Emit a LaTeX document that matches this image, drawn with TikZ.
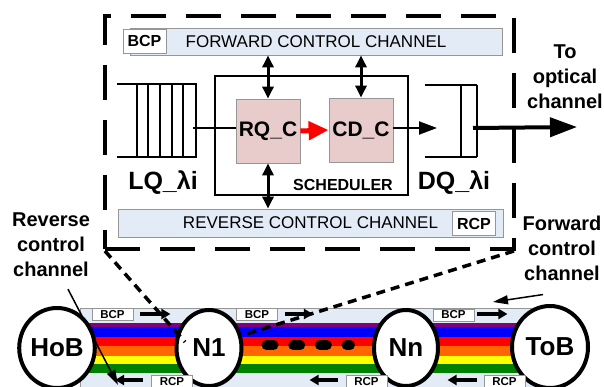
\documentclass[tikz,border=0pt]{standalone}
\usepackage{fontspec}
\setmainfont{Liberation Sans}
\usetikzlibrary{arrows.meta,shapes.geometric,positioning}

\definecolor{chanblue}{RGB}{227,235,246}
\definecolor{ctrlpink}{RGB}{232,203,203}
\definecolor{edgegray}{RGB}{150,150,150}
\definecolor{ringpurple}{RGB}{128,0,128}
\definecolor{ringblue}{RGB}{0,0,255}
\definecolor{ringred}{RGB}{255,0,0}
\definecolor{ringorange}{RGB}{255,102,0}
\definecolor{ringyellow}{RGB}{255,255,0}
\definecolor{ringgreen}{RGB}{0,128,0}

\tikzset{
  chanbar/.style={draw=edgegray, fill=chanblue, line width=0.8pt, inner sep=0pt,
    font=\fontsize{17}{19}\selectfont},
  tagbox/.style={draw=edgegray, fill=white, line width=0.8pt, inner sep=0pt,
    minimum width=43pt, minimum height=24pt, font=\bfseries\fontsize{16}{18}\selectfont},
  smalltag/.style={draw=edgegray, fill=white, line width=0.8pt, inner sep=0pt,
    minimum width=41pt, minimum height=12pt, font=\bfseries\fontsize{11.5}{12}\selectfont},
  ctrlbox/.style={draw=edgegray, fill=ctrlpink, line width=0.8pt, inner sep=0pt,
    minimum width=64pt, minimum height=64pt, font=\bfseries\fontsize{21}{24}\selectfont},
  ringnode/.style={ellipse, draw, line width=4pt, fill=white, inner sep=0pt,
    font=\bfseries\fontsize{26}{30}\selectfont},
  bigtext/.style={font=\bfseries\fontsize{20}{25}\selectfont, align=center, inner sep=0pt},
  qlabel/.style={font=\bfseries\fontsize{25}{28}\selectfont, inner sep=0pt},
  qline/.style={line width=2.5pt},
  zoombox/.style={draw, line width=4pt, dash pattern=on 35pt off 20pt, inner sep=0pt,
    minimum width=409pt, minimum height=233pt},
  linkdash/.style={line width=3.5pt, dash pattern=on 9pt off 6pt},
  dblarrow/.style={{Triangle[length=12pt,width=11pt]}-{Triangle[length=12pt,width=11pt]}, line width=3pt},
  bandarrow/.style={-{Triangle[length=9pt,width=10pt]}, line width=4pt},
  thinarrow/.style={-{Triangle[length=15pt,width=9pt]}, line width=1.5pt}
}

\begin{document}
\begin{tikzpicture}[x=1pt,y=-1pt]
\useasboundingbox (0,0) rectangle (604,387);

% enlarged node detail
\node[zoombox] (detail) at (309.5,132.5) {};
\node[chanbar, minimum width=372pt, minimum height=27pt] (fwdbar) at (316,41.5) {FORWARD CONTROL CHANNEL};
\node[tagbox] (bcptop) at (144.5,41) {BCP};
\node[chanbar, minimum width=385pt, minimum height=28pt] (revbar) at (310.5,223) {REVERSE CONTROL CHANNEL};
\node[tagbox] (rcptop) at (474,223.5) {RCP};

\node[draw, line width=2.5pt, minimum width=193pt, minimum height=119pt] (sched) at (311.5,135.5) {};
\node[font=\bfseries\fontsize{16}{18}\selectfont, inner sep=0pt] (schedlabel) at (343,185) {SCHEDULER};
\node[ctrlbox] (rq) at (268,131) {RQ\_C};
\node[ctrlbox] (cd) at (361,130) {CD\_C};

% local queue
\draw[qline] (117,84) -- (197,84) (117,157) -- (197,157);
\foreach \x in {137,148,160,172,183,196}
  \draw[qline] (\x,84) -- (\x,157);
\node[qlabel] (lqlabel) at (163,183) {LQ\_λi};
\coordinate (lqout) at (193,128);

% data queue
\draw[qline] (425,85) -- (477,85) (425,157) -- (477,157);
\draw[qline] (461,85) -- (461,157) (477,85) -- (477,157);
\node[qlabel] (dqlabel) at (454,183) {DQ\_λi};
\coordinate (dqout) at (473,128);
\coordinate (optical) at (577,127);
\node[bigtext] (optlabel) at (565,77) {To\\optical\\channel};

% connectors inside the node
\draw[dblarrow] (rq.north) -- (rq.north |- fwdbar.south);
\draw[dblarrow] (cd.north) -- (cd.north |- fwdbar.south);
\draw[dblarrow] (rq.south) -- (rq.south |- revbar.north);
\draw[line width=2pt] (lqout) -- (lqout -| rq.west);
\draw[red, line width=5pt, -{Triangle[length=20pt,width=18pt]}] (rq.east) -- (cd.west);
\draw[line width=2pt, -{Triangle[length=18pt,width=13pt]}] (cd.east |- lqout) -- (437,128);
\draw[line width=4pt, -{Triangle[length=27pt,width=19pt]}] (dqout) -- (optical);

% bus of wavelengths
\draw[edgegray, fill=chanblue, line width=0.8pt] (80,308) rectangle (550,392);
\foreach \col/\top/\bot in {ringpurple/323/327, ringblue/327/337, ringred/337/346,
    ringorange/346/356, ringyellow/356/364, ringgreen/364/373}
  \fill[\col] (80,\top) rectangle (550,\bot);

\node[ringnode, minimum width=64pt, minimum height=80pt] (hob) at (57,348) {HoB};
\node[ringnode, minimum width=65pt, minimum height=76pt] (n1) at (209,348) {N1};
\node[ringnode, minimum width=64pt, minimum height=76pt] (nn) at (406,348) {Nn};
\node[ringnode, minimum width=76pt, minimum height=82pt] (tob) at (550,347) {ToB};

\draw[line width=10pt, line cap=round, dash pattern=on 7pt off 19.7pt]
  ([xshift=23pt,yshift=3pt]n1.east) -- ([xshift=-22pt,yshift=3pt]nn.west);

% control packets on the bus
\node[smalltag] (bcpa) at (112.5,314.5) {BCP};
\node[smalltag] (bcpb) at (257,314.5) {BCP};
\node[smalltag] (bcpc) at (453.5,315) {BCP};
\draw[bandarrow] ([xshift=7pt]bcpa.east |- 0,314) -- ++(30,0);
\draw[bandarrow] ([xshift=7pt]bcpb.east |- 0,314) -- ++(28,0);
\draw[bandarrow] ([xshift=3pt]bcpc.east |- 0,314) -- ++(30,0);

\node[smalltag, minimum height=14pt] (rcpa) at (172,382) {RCP};
\node[smalltag, minimum height=14pt] (rcpb) at (366.5,382) {RCP};
\node[smalltag, minimum height=14pt] (rcpc) at (504.5,382) {RCP};
\draw[bandarrow] ([xshift=-8pt]rcpa.west |- 0,380) -- ++(-28,0);
\draw[bandarrow] ([xshift=-8pt]rcpb.west |- 0,380) -- ++(-28,0);
\draw[bandarrow] ([xshift=-7pt]rcpc.west |- 0,380) -- ++(-29,0);

% zoom lines to N1
\coordinate (n1left) at (185,342);
\coordinate (n1right) at (243,335);
\draw[linkdash] ([shift={(2pt,0pt)}]detail.south west) -- (n1left);
\draw[linkdash] ([shift={(-2pt,0pt)}]detail.south east) -- (n1right);

% channel labels
\node[bigtext] (revlabel) at (51,245) {Reverse\\control\\channel};
\node[bigtext] (fwdlabel) at (562,248) {Forward\\control\\channel};
\coordinate (revtip) at (118,385);
\coordinate (fwdtip) at (493,302);
\draw[thinarrow] ([xshift=17pt,yshift=-12pt]revlabel.south) -- (revtip);
\draw[thinarrow] ([xshift=-19pt,yshift=-14pt]fwdlabel.south) -- (fwdtip);
\end{tikzpicture}
\end{document}
